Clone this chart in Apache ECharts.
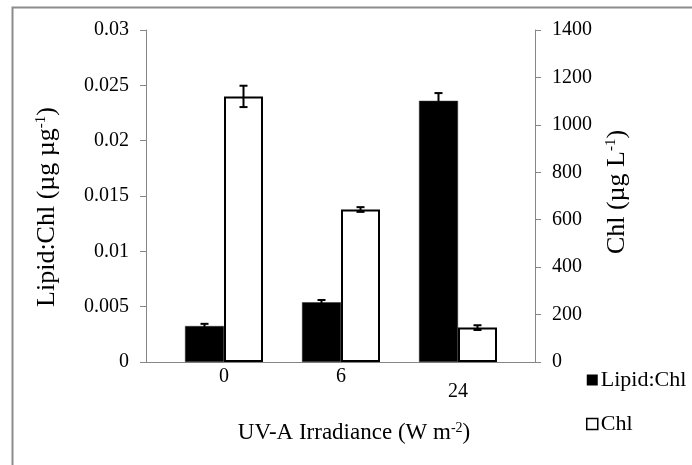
<!DOCTYPE html>
<html>
<head>
<meta charset="utf-8">
<script src="https://cdn.jsdelivr.net/npm/echarts@6/dist/echarts.min.js"></script>
<style>
html,body{margin:0;padding:0;background:#fff;}
#chart{width:692px;height:465px;}
</style>
</head>
<body>
<div id="chart"></div>
<script>
// ---- data ----
const categories = ['0', '6', '24'];
const lipidChl = [0.00325, 0.0054, 0.0236];
const lipidChlErr = [0.0002, 0.0002, 0.0007];
const chl = [1120, 643, 145];
const chlErr = [45, 10, 10];
const leftTicks = [0, 0.005, 0.01, 0.015, 0.02, 0.025, 0.03];
const rightTicks = [0, 200, 400, 600, 800, 1000, 1200, 1400];

const FONT = '"Liberation Serif", "Times New Roman", serif';
const AXIS_GRAY = '#868686';

const chart = echarts.init(document.getElementById('chart'), null, {renderer: 'canvas'});

function errRender(offsetFrac) {
  return function (params, api) {
    const xi = api.value(0), v = api.value(1), e = api.value(2);
    const band = api.size([1, 0])[0];
    const c = api.coord([xi, v]);
    const cx = c[0] + offsetFrac * band;
    const hi = api.coord([xi, v + e])[1];
    const lo = api.coord([xi, v - e])[1];
    const cap = 4;
    const st = {stroke: '#000', lineWidth: 2};
    return {
      type: 'group',
      children: [
        {type: 'line', shape: {x1: cx, y1: hi, x2: cx, y2: lo}, style: st},
        {type: 'line', shape: {x1: cx - cap, y1: hi, x2: cx + cap, y2: hi}, style: st},
        {type: 'line', shape: {x1: cx - cap, y1: lo, x2: cx + cap, y2: lo}, style: st}
      ]
    };
  };
}

function richSet(size, supSize) {
  return {
    n: {fontSize: size, fontFamily: FONT, color: '#000'},
    s: {fontSize: supSize, fontFamily: FONT, color: '#000', verticalAlign: 'top'}
  };
}

const option = {
  backgroundColor: '#fff',
  animation: false,
  graphic: [{
    type: 'rect', left: 10, top: 5, shape: {width: 720, height: 480},
    style: {fill: 'none', stroke: '#8c8c8c', lineWidth: 2}, silent: true
  }],
  legend: {
    orient: 'vertical', left: 586, top: 369, padding: 0,
    itemWidth: 11, itemHeight: 11, itemGap: 22,
    textStyle: {fontFamily: FONT, fontSize: 22, color: '#000', lineHeight: 22, padding: [0, 0, 0, -2]},
    data: [
      {name: 'Lipid:Chl', icon: 'rect', itemStyle: {color: '#000', borderWidth: 0}},
      {name: 'Chl', icon: 'rect', itemStyle: {color: '#fff', borderColor: '#000', borderWidth: 1.5}}
    ]
  },
  grid: [
    {left: 146, top: 30, width: 389, height: 332},
    {left: 165.5, top: 30, width: 351, height: 332}
  ],
  xAxis: [
    {gridIndex: 0, type: 'value', min: 0, max: 1, axisLine: {show: true, onZero: false, lineStyle: {color: AXIS_GRAY, width: 1}},
     axisTick: {show: false}, axisLabel: {show: false}, splitLine: {show: false}},
    {gridIndex: 1, type: 'category', data: categories,
     axisLine: {show: false}, axisTick: {show: false},
     axisLabel: {
       fontFamily: FONT, fontSize: 20, color: '#000', margin: 5,
       formatter: function (v, i) { return i === 2 ? '{lo|' + v + '}' : v; },
       rich: {lo: {fontFamily: FONT, fontSize: 20, color: '#000', padding: [15, 0, 0, 0]}}
     },
     name: '{n|UV-A Irradiance (W m}{s|-2}{n|)}', nameLocation: 'middle', nameGap: 59,
     nameTextStyle: {padding: [0, 0, 0, 26], rich: richSet(23, 14)}
    }
  ],
  yAxis: [
    {gridIndex: 0, type: 'value', position: 'left',
     min: leftTicks[0], max: leftTicks[leftTicks.length - 1], interval: leftTicks[1] - leftTicks[0],
     axisLine: {show: true, lineStyle: {color: AXIS_GRAY, width: 1}},
     axisTick: {show: true, inside: false, length: 6, lineStyle: {color: AXIS_GRAY}},
     splitLine: {show: false},
     axisLabel: {fontFamily: FONT, fontSize: 20, color: '#000', margin: 17,
       formatter: function (v) { return String(+v.toFixed(3)); }},
     name: '{n|Lipid:Chl (µg µg}{s|-1}{n|)}', nameLocation: 'middle', nameRotate: 90, nameGap: 86,
     nameTextStyle: {padding: [0, 22, 0, 0], rich: richSet(26, 15)}
    },
    {gridIndex: 0, type: 'value', position: 'right',
     min: rightTicks[0], max: rightTicks[rightTicks.length - 1], interval: rightTicks[1] - rightTicks[0],
     axisLine: {show: true, lineStyle: {color: AXIS_GRAY, width: 1}},
     axisTick: {show: true, inside: false, length: 6, lineStyle: {color: AXIS_GRAY}},
     splitLine: {show: false},
     axisLabel: {fontFamily: FONT, fontSize: 20, color: '#000', margin: 17,
       formatter: function (v) { return String(v); }},
     name: '{n|Chl (µg L}{s|-1}{n|)}', nameLocation: 'middle', nameRotate: 90, nameGap: 69,
     nameTextStyle: {padding: [0, 0, 0, 8], rich: richSet(26, 15)}
    },
    {gridIndex: 1, type: 'value', show: false,
     min: leftTicks[0], max: leftTicks[leftTicks.length - 1]},
    {gridIndex: 1, type: 'value', show: false,
     min: rightTicks[0], max: rightTicks[rightTicks.length - 1]}
  ],
  series: [
    {name: 'Lipid:Chl', type: 'bar', xAxisIndex: 1, yAxisIndex: 2, data: lipidChl,
     barWidth: '33.333%', barGap: '0%',
     itemStyle: {color: '#000', borderColor: '#333', borderWidth: 0.5}},
    {name: 'Chl', type: 'bar', xAxisIndex: 1, yAxisIndex: 3, data: chl,
     barWidth: '33.333%', barGap: '0%',
     itemStyle: {color: '#fff', borderColor: '#000', borderWidth: 2}},
    {name: 'errLipid', type: 'custom', xAxisIndex: 1, yAxisIndex: 2, z: 5,
     renderItem: errRender(-1 / 6), encode: {x: 0, y: 1},
     data: lipidChl.map((v, i) => [i, v, lipidChlErr[i]])},
    {name: 'errChl', type: 'custom', xAxisIndex: 1, yAxisIndex: 3, z: 5,
     renderItem: errRender(1 / 6), encode: {x: 0, y: 1},
     data: chl.map((v, i) => [i, v, chlErr[i]])}
  ]
};
chart.setOption(option);
</script>
</body>
</html>
